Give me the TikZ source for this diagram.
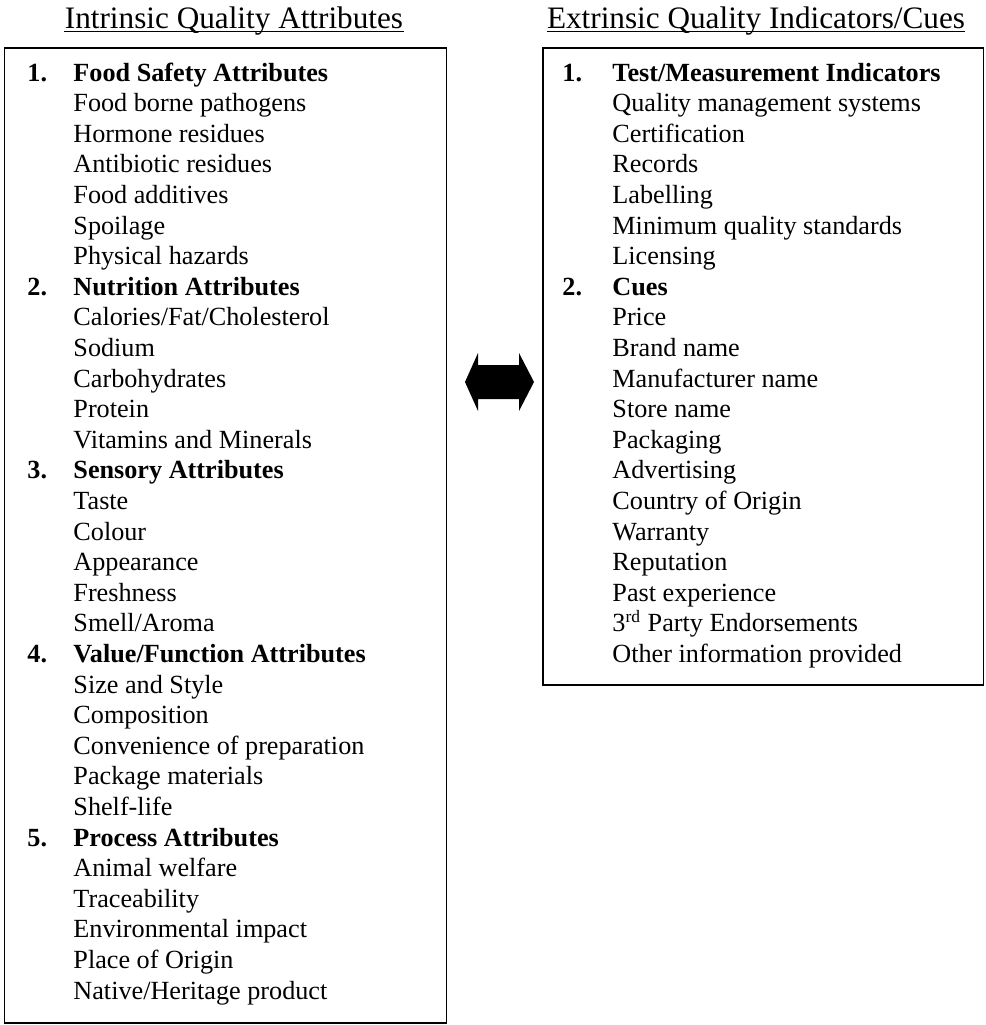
\documentclass[tikz,border=0pt]{standalone}
\usepackage{fontspec}
\setmainfont{Liberation Serif}
\begin{document}
\begin{tikzpicture}[x=0.458pt,y=-0.458pt,
  body/.style={anchor=base west, inner sep=0pt, font=\fontsize{12}{14}\selectfont},
  head/.style={body, font=\fontsize{12}{14}\selectfont\bfseries},
  ttl/.style={anchor=base, inner sep=0pt, font=\fontsize{14.3}{17}\selectfont},
  boxframe/.style={draw, line width=0.9pt},
  uline/.style={line width=0.55pt},
  arrowshape/.style={fill=black}]
\useasboundingbox (0,0) rectangle (985,1025);
\def\ry#1{81+30.6*#1}
% titles
\node[ttl] (lt) at (234,28) {Intrinsic Quality Attributes};
\node[ttl] (rt) at (756,28) {Extrinsic Quality Indicators/Cues};
\draw[uline] ([yshift=-1.6pt]lt.base west) -- ([yshift=-1.6pt]lt.base east);
\draw[uline] ([yshift=-1.6pt]rt.base west) -- ([yshift=-1.6pt]rt.base east);
% boxes
\coordinate (lbnw) at (4.5,48);
\coordinate (lbse) at (446.5,1023);
\coordinate (rbnw) at (543,48);
\coordinate (rbse) at (983.5,685);
\draw[boxframe] (lbnw) rectangle (lbse);
\draw[boxframe] (rbnw) rectangle (rbse);
% left list
\node[head] (ln1) at (27,{\ry{0}}) {1.};
\node[head] (lh1) at (73,{\ry{0}}) {Food Safety Attributes};
\node[body] (l1) at (73,{\ry{1}}) {Food borne pathogens};
\node[body] (l2) at (73,{\ry{2}}) {Hormone residues};
\node[body] (l3) at (73,{\ry{3}}) {Antibiotic residues};
\node[body] (l4) at (73,{\ry{4}}) {Food additives};
\node[body] (l5) at (73,{\ry{5}}) {Spoilage};
\node[body] (l6) at (73,{\ry{6}}) {Physical hazards};
\node[head] (ln2) at (27,{\ry{7}}) {2.};
\node[head] (lh2) at (73,{\ry{7}}) {Nutrition Attributes};
\node[body] (l8) at (73,{\ry{8}}) {Calories/Fat/Cholesterol};
\node[body] (l9) at (73,{\ry{9}}) {Sodium};
\node[body] (l10) at (73,{\ry{10}}) {Carbohydrates};
\node[body] (l11) at (73,{\ry{11}}) {Protein};
\node[body] (l12) at (73,{\ry{12}}) {Vitamins and Minerals};
\node[head] (ln3) at (27,{\ry{13}}) {3.};
\node[head] (lh3) at (73,{\ry{13}}) {Sensory Attributes};
\node[body] (l14) at (73,{\ry{14}}) {Taste};
\node[body] (l15) at (73,{\ry{15}}) {Colour};
\node[body] (l16) at (73,{\ry{16}}) {Appearance};
\node[body] (l17) at (73,{\ry{17}}) {Freshness};
\node[body] (l18) at (73,{\ry{18}}) {Smell/Aroma};
\node[head] (ln4) at (27,{\ry{19}}) {4.};
\node[head] (lh4) at (73,{\ry{19}}) {Value/Function Attributes};
\node[body] (l20) at (73,{\ry{20}}) {Size and Style};
\node[body] (l21) at (73,{\ry{21}}) {Composition};
\node[body] (l22) at (73,{\ry{22}}) {Convenience of preparation};
\node[body] (l23) at (73,{\ry{23}}) {Package materials};
\node[body] (l24) at (73,{\ry{24}}) {Shelf-life};
\node[head] (ln5) at (27,{\ry{25}}) {5.};
\node[head] (lh5) at (73,{\ry{25}}) {Process Attributes};
\node[body] (l26) at (73,{\ry{26}}) {Animal welfare};
\node[body] (l27) at (73,{\ry{27}}) {Traceability};
\node[body] (l28) at (73,{\ry{28}}) {Environmental impact};
\node[body] (l29) at (73,{\ry{29}}) {Place of Origin};
\node[body] (l30) at (73,{\ry{30}}) {Native/Heritage product};
% right list
\node[head] (rn1) at (562,{\ry{0}}) {1.};
\node[head] (rh1) at (612,{\ry{0}}) {Test/Measurement Indicators};
\node[body] (r1) at (612,{\ry{1}}) {Quality management systems};
\node[body] (r2) at (612,{\ry{2}}) {Certification};
\node[body] (r3) at (612,{\ry{3}}) {Records};
\node[body] (r4) at (612,{\ry{4}}) {Labelling};
\node[body] (r5) at (612,{\ry{5}}) {Minimum quality standards};
\node[body] (r6) at (612,{\ry{6}}) {Licensing};
\node[head] (rn2) at (562,{\ry{7}}) {2.};
\node[head] (rh2) at (612,{\ry{7}}) {Cues};
\node[body] (r8) at (612,{\ry{8}}) {Price};
\node[body] (r9) at (612,{\ry{9}}) {Brand name};
\node[body] (r10) at (612,{\ry{10}}) {Manufacturer name};
\node[body] (r11) at (612,{\ry{11}}) {Store name};
\node[body] (r12) at (612,{\ry{12}}) {Packaging};
\node[body] (r13) at (612,{\ry{13}}) {Advertising};
\node[body] (r14) at (612,{\ry{14}}) {Country of Origin};
\node[body] (r15) at (612,{\ry{15}}) {Warranty};
\node[body] (r16) at (612,{\ry{16}}) {Reputation};
\node[body] (r17) at (612,{\ry{17}}) {Past experience};
\node[body] (r18) at (612,{\ry{18}}) {3\textsuperscript{rd} Party Endorsements};
\node[body] (r19) at (612,{\ry{19}}) {Other information provided};
% double arrow
\fill[arrowshape] (465,382) -- (478,353) -- (478,365) -- (519,365) -- (519,353)
  -- (534,382) -- (519,411) -- (519,399) -- (478,399) -- (478,411) -- cycle;
\end{tikzpicture}
\end{document}
